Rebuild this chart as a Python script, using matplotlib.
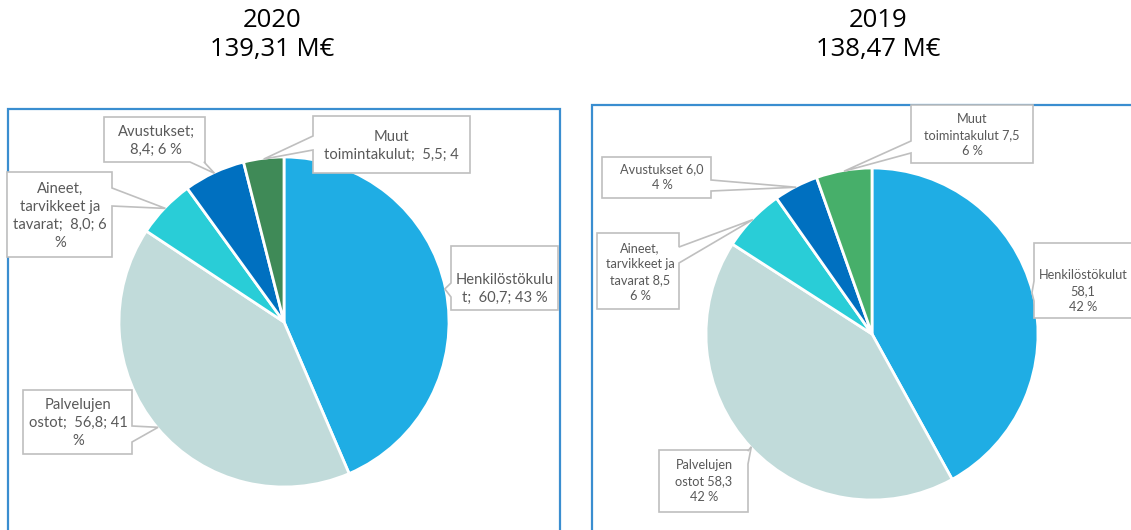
import numpy as np
import matplotlib
matplotlib.use("Agg")
import matplotlib.pyplot as plt
from matplotlib.patches import Polygon, Rectangle

# ---------------- data ----------------
categories = ["Henkilöstökulut", "Palvelujen ostot", "Aineet, tarvikkeet ja tavarat",
              "Avustukset", "Muut toimintakulut"]
values_2020 = [60.7, 56.8, 8.0, 8.4, 5.5]
pct_2020 = [43, 41, 6, 6, 4]
values_2019 = [58.1, 58.3, 8.5, 6.0, 7.5]
pct_2019 = [42, 42, 6, 4, 6]
titles = ["2020\n139,31 M€", "2019\n138,47 M€"]


def fi(v):
    return f"{v:.1f}".replace(".", ",")


labels_2020 = [
    f"Henkilöstökulu\nt;  {fi(values_2020[0])}; {pct_2020[0]} %",
    f"Palvelujen\nostot;  {fi(values_2020[1])}; {pct_2020[1]}\n%",
    f"Aineet,\ntarvikkeet ja\ntavarat;  {fi(values_2020[2])}; {pct_2020[2]}\n%",
    f"Avustukset;\n{fi(values_2020[3])}; {pct_2020[3]} %",
    f"Muut\ntoimintakulut;  {fi(values_2020[4])}; {pct_2020[4]}",
]
labels_2019 = [
    f"Henkilöstökulut\n{fi(values_2019[0])}\n{pct_2019[0]} %",
    f"Palvelujen\nostot {fi(values_2019[1])}\n{pct_2019[1]} %",
    f"Aineet,\ntarvikkeet ja\ntavarat {fi(values_2019[2])}\n{pct_2019[2]} %",
    f"Avustukset {fi(values_2019[3])}\n{pct_2019[3]} %",
    f"Muut\ntoimintakulut {fi(values_2019[4])}\n{pct_2019[4]} %",
]

# ---------------- styles ----------------
W, H = 1131, 530
colors_2020 = ["#1FADE4", "#C1DBDA", "#29CDD7", "#0070C0", "#3F8A57"]
colors_2019 = ["#1FADE4", "#C1DBDA", "#29CDD7", "#0070C0", "#47AF6A"]
TXT = "#595959"
EDGE = "#BFBFBF"
FRAME = "#3A8ED0"

fig = plt.figure(figsize=(W / 100, H / 100), dpi=100)
ax = fig.add_axes([0, 0, 1, 1])


def P(x, y):
    return (x, H - y)


# frames
ax.add_patch(Rectangle(P(8, 540), 552, 431, fill=False, ec=FRAME, lw=1.6, zorder=1))
ax.add_patch(Rectangle(P(592, 540), 560, 435, fill=False, ec=FRAME, lw=1.6, zorder=1))

# titles
ax.text(272, H - 35, titles[0], ha="center", va="center", fontsize=18.5,
        family="Open Sans", color="black", linespacing=1.25)
ax.text(878, H - 35, titles[1], ha="center", va="center", fontsize=18.5,
        family="Open Sans", color="black", linespacing=1.25)

panels = [
    dict(values=values_2020, colors=colors_2020, labels=labels_2020,
         center=(284, 322), r=165, fs=10.6, ls=1.38,
         # box (x0, y0, x1, y1), side, base (a, b), text x, text y (center of block)
         boxes=[
             ((451, 246, 558, 310), "left", (283, 297), 505, 289),
             ((23, 390, 132, 454), "right", (426, 442), 78, 423),
             ((7, 172, 112, 257), "right", (188, 206), 60, 216),
             ((104, 117, 205, 162), "bottom", (190, 204), 156, 141),
             ((313, 116, 470, 173), "left", (136, 150), 391, 146),
         ]),
    dict(values=values_2019, colors=colors_2019, labels=labels_2019,
         center=(872, 334), r=166, fs=9.2, ls=1.42,
         boxes=[
             ((1034, 243, 1145, 318), "left", (281, 301), 1083, 291),
             ((659, 450, 748, 512), "right", (451, 464), 704, 481),
             ((597, 233, 679, 309), "right", (247, 263), 640, 272),
             ((602, 157, 711, 198), "right", (180, 191), 662, 177),
             ((911, 105, 1033, 163), "left", (141, 153), 972, 135),
         ]),
]

for pn in panels:
    cx, cy = pn["center"]
    wedges, _ = ax.pie(pn["values"], colors=pn["colors"], startangle=90,
                       counterclock=False, center=(cx, H - cy), radius=pn["r"],
                       wedgeprops=dict(edgecolor="white", linewidth=2), frame=True)
    for w, lab, (box, side, base, tx, ty) in zip(wedges, pn["labels"], pn["boxes"]):
        mid = np.deg2rad((w.theta1 + w.theta2) / 2)
        tip = (cx + pn["r"] * 0.995 * np.cos(mid), cy - pn["r"] * 0.995 * np.sin(mid))
        x0, y0, x1, y1 = box
        a, b = base
        if side == "left":
            pts = [(x0, y0), (x1, y0), (x1, y1), (x0, y1), (x0, b), tip, (x0, a)]
        elif side == "right":
            pts = [(x0, y0), (x1, y0), (x1, a), tip, (x1, b), (x1, y1), (x0, y1)]
        elif side == "bottom":
            pts = [(x0, y0), (x1, y0), (x1, y1), (b, y1), tip, (a, y1), (x0, y1)]
        else:
            pts = [(x0, y0), (a, y0), tip, (b, y0), (x1, y0), (x1, y1), (x0, y1)]
        ax.add_patch(Polygon([P(*p) for p in pts], closed=True, fc="white",
                             ec=EDGE, lw=1.2, zorder=5, joinstyle="miter"))
        ax.text(tx, H - ty, lab, ha="center", va="center", fontsize=pn["fs"],
                family="Lato", color=TXT, linespacing=pn["ls"], zorder=6)

ax.set_xlim(0, W)
ax.set_ylim(0, H)
ax.set_aspect("auto")
ax.axis("off")
fig.savefig("out.png", dpi=100, facecolor="white")
